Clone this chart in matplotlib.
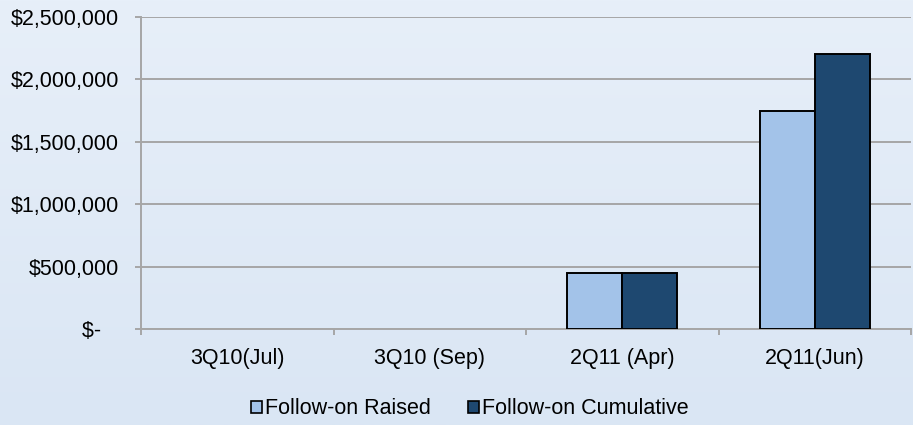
import matplotlib
matplotlib.use("Agg")
import matplotlib.pyplot as plt
import numpy as np
from matplotlib.patches import Patch
from matplotlib.colors import LinearSegmentedColormap

plt.rcParams['font.family'] = ['Liberation Sans', 'DejaVu Sans']

categories = ["3Q10(Jul)", "3Q10 (Sep)", "2Q11 (Apr)", "2Q11(Jun)"]
raised = [0, 0, 450000, 1750000]
cumulative = [0, 0, 450000, 2200000]
series_names = ["Follow-on Raised", "Follow-on Cumulative"]
y_ticks = [0, 500000, 1000000, 1500000, 2000000, 2500000]
y_tick_labels = ["$-   ", "$500,000", "$1,000,000", "$1,500,000", "$2,000,000", "$2,500,000"]

c_light = "#a3c3e9"
c_dark = "#1e4870"
grid_c = "#a6a6a6"
FS = 15.5

fig = plt.figure(figsize=(9.13, 4.25), dpi=100)
bg = fig.add_axes([0, 0, 1, 1], zorder=-10)
grad = np.linspace(0, 1, 256).reshape(-1, 1)
cmap = LinearSegmentedColormap.from_list("bg", ["#e7eff9", "#dae6f4"])
bg.imshow(grad, aspect='auto', cmap=cmap, extent=[0, 1, 0, 1], origin='upper')
bg.axis('off')

ax = fig.add_axes([141/913, 1 - 329/425, (911-141)/913, (329-17)/425])
ax.patch.set_alpha(0)

x = np.arange(len(categories))
w = 0.285
nz = lambda v: [vv if vv > 0 else np.nan for vv in v]
ax.bar(x - w/2, nz(raised), w, color=c_light, edgecolor="black", linewidth=1.4, zorder=3, label=series_names[0])
ax.bar(x + w/2, nz(cumulative), w, color=c_dark, edgecolor="black", linewidth=1.4, zorder=3, label=series_names[1])

ax.set_xlim(-0.5, len(categories) - 0.5)
ax.set_ylim(0, 2500000)
ax.set_yticks(y_ticks)
ax.set_yticklabels(y_tick_labels, fontsize=FS, color="black")
ax.yaxis.grid(True, color=grid_c, linewidth=1.4, zorder=0)
ax.set_axisbelow(True)

ax.set_xticks(x)
ax.set_xticklabels(categories, fontsize=FS)
ax.set_xticks(np.arange(len(categories) + 1) - 0.5, minor=True)
ax.tick_params(axis='x', which='major', length=0, pad=14)
ax.tick_params(axis='x', which='minor', length=4, color=grid_c, width=1.4)
ax.tick_params(axis='y', length=4, color=grid_c, width=1.4, pad=12)

for s in ["top", "right"]:
    ax.spines[s].set_visible(False)
for s in ["left", "bottom"]:
    ax.spines[s].set_color(grid_c)
    ax.spines[s].set_linewidth(1.4)

handles = [Patch(facecolor=c_light, edgecolor="black", linewidth=1.2),
           Patch(facecolor=c_dark, edgecolor="black", linewidth=1.2)]
fig.legend(handles, series_names, loc="center", bbox_to_anchor=(470/913, 1 - 409/425),
           ncol=2, frameon=False, fontsize=FS, handlelength=0.5, handleheight=0.5,
           handletextpad=0.15, columnspacing=1.7)

fig.savefig("out.png", dpi=100)
